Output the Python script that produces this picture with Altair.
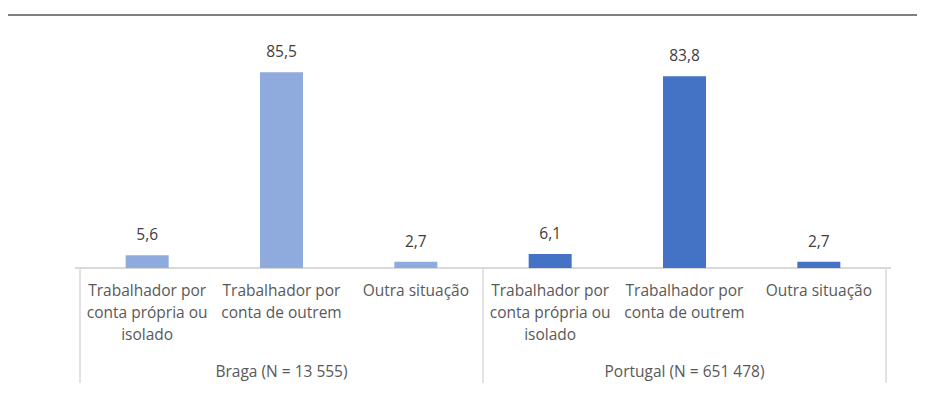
import altair as alt
import pandas as pd

groups = ["Braga (N = 13 555)", "Portugal (N = 651 478)"]
categories = ["Trabalhador por\nconta própria ou\nisolado", "Trabalhador por\nconta de outrem", "Outra situação"]
braga = [5.6, 85.5, 2.7]
portugal = [6.1, 83.8, 2.7]
colors = ["#8FAADC", "#4472C4"]

rows = []
for gi, (g, vals) in enumerate(zip(groups, [braga, portugal])):
    for ci, (c, v) in enumerate(zip(categories, vals)):
        rows.append({"group": g, "cat": c, "value": v, "pos": gi * 3 + ci + 0.5, "zero": 0,
                     "label": f"{v:.1f}".replace(".", ",")})
df = pd.DataFrame(rows)
gdf = pd.DataFrame({"group": groups, "pos": [i * 3 + 1.5 for i in range(len(groups))], "zero": 0})
bdf = pd.DataFrame({"b": [i * 3 for i in range(len(groups) + 1)], "zero": 0})

W, H = 816, 206
FONT = "Open Sans"
FS = 15.5


def X(f):
    return alt.X(f, scale=alt.Scale(domain=[0, 6]), axis=None)


def Y(f):
    return alt.Y(f, scale=alt.Scale(domain=[0, 90]), axis=None)


bars = alt.Chart(df).mark_bar(size=43).encode(
    x=X("pos:Q"), y=Y("value:Q"),
    color=alt.Color("group:N", scale=alt.Scale(domain=groups, range=colors), legend=None),
)
vals = alt.Chart(df).mark_text(font=FONT, fontSize=FS, color="#404040", dy=-20, baseline="middle").encode(
    x=X("pos:Q"), y=Y("value:Q"), text="label:N"
)
cats = alt.Chart(df).mark_text(font=FONT, fontSize=FS, color="#595959", lineBreak="\n",
                                lineHeight=22, baseline="top", dy=16).encode(
    x=X("pos:Q"), y=Y("zero:Q"), text="cat:N"
)
glabels = alt.Chart(gdf).mark_text(font=FONT, fontSize=FS, color="#595959", baseline="middle", dy=104).encode(
    x=X("pos:Q"), y=Y("zero:Q"), text="group:N"
)
baseline = alt.Chart(bdf).mark_rule(color="#D9D9D9", strokeWidth=1.5).encode(
    x=alt.value(0), x2=alt.value(W), y=Y("zero:Q")
)
seps = alt.Chart(bdf).mark_rule(color="#D9D9D9", strokeWidth=1.5).encode(
    x=X("b:Q"), y=alt.value(H), y2=alt.value(H + 115)
)
topline = alt.Chart(gdf).mark_rule(color="#808080", strokeWidth=2).encode(
    x=alt.value(-67), x2=alt.value(W + 26), y=alt.value(-47)
)

chart = alt.layer(topline, baseline, seps, bars, vals, cats, glabels).properties(
    width=W, height=H,
    autosize=alt.AutoSizeParams(type="none"),
    padding={"left": 67, "top": 54, "right": 26, "bottom": 128},
).configure_view(stroke=None)

chart.save("out.html", embed_options={"renderer": "svg", "actions": False})
